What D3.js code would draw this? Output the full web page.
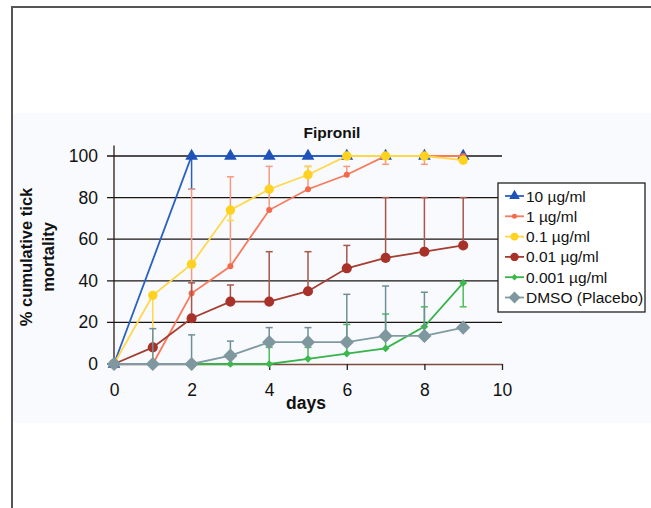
<!DOCTYPE html>
<html>
<head>
<meta charset="utf-8">
<script src="https://cdn.jsdelivr.net/npm/d3@7"></script>
<style>
  body { margin: 0; background: #fff; }
  svg text { font-family: "Liberation Sans", Arial, sans-serif; fill: #111; }
</style>
</head>
<body>
<div id="chart"></div>
<script>
// days 0..9
const days = [0, 1, 2, 3, 4, 5, 6, 7, 8, 9];
const xTicks = [0, 2, 4, 6, 8, 10];
const yTicks = [0, 20, 40, 60, 80, 100];

const seriesNames = ["10 µg/ml", "1 µg/ml", "0.1 µg/ml", "0.01 µg/ml", "0.001 µg/ml", "DMSO (Placebo)"];

// mean % cumulative mortality
const v10    = [0, null, 100, 100, 100, 100, 100, 100, 100, 100];
const v1     = [0, 0, 34, 47, 74, 84, 91, 100, 100, 100];
const v01    = [0, 33, 48, 74, 84, 91, 100, 100, 100, 98];
const v001   = [0, 8, 22, 30, 30, 35, 46, 51, 54, 57];
const v0001  = [0, 0, 0, 0, 0, 2.5, 5, 7.5, 18, 39];
const vDmso  = [0, 0, 0, 4, 10.5, 10.5, 10.5, 13.5, 13.5, 17.5];

// error bar end (cap position), null = no bar
const e10    = [null, null, 84, null, null, null, null, null, null, null];
const e1     = [null, null, 84, 90, 95, 95, 95, 96, 96, null];
const e01    = [null, 0, null, 69, null, 95, null, null, null, null];
const e001   = [null, null, 39, 38, 54, 54, 57, 80, 80, 80];
const e0001  = [null, null, null, null, 8, 8, 19, 24, 27.5, 27.5];
const eDmso  = [null, 17, 14, 11, 17.5, 17.5, 33.5, 37.5, 34.5, null];

const values = [v10, v1, v01, v001, v0001, vDmso];
const errors = [e10, e1, e01, e001, e0001, eDmso];

// square turned 45deg -> even diamond
const sqDiamond = {draw(ctx, size) {
  const r = Math.sqrt(size / 2);
  ctx.moveTo(0, -r); ctx.lineTo(r, 0); ctx.lineTo(0, r); ctx.lineTo(-r, 0); ctx.closePath();
}};

const styles = [
  {line: "#2a5fc4", fill: "#1f52b8", err: "#2a5fc4", shape: d3.symbolTriangle, size: 70},
  {line: "#f77a5c", fill: "#f26a4c", err: "#f79a80", shape: d3.symbolCircle, size: 28},
  {line: "#ffd84a", fill: "#ffd21f", err: "#ffd84a", shape: d3.symbolCircle, size: 70},
  {line: "#a33e30", fill: "#a8322a", err: "#a8564a", shape: d3.symbolCircle, size: 80},
  {line: "#36b44a", fill: "#3cb94c", err: "#4cbf5a", shape: sqDiamond, size: 30},
  {line: "#7f9aa2", fill: "#7f979e", err: "#6f8f98", shape: sqDiamond, size: 100}
];

const W = 651, H = 508;
const svg = d3.select("#chart").append("svg")
  .attr("width", W).attr("height", H);

// frame + light chart background
svg.append("rect").attr("x", 12).attr("y", 113).attr("width", W - 12).attr("height", 310)
  .attr("fill", "#f8fafd");
svg.append("path").attr("d", `M12,${H} L12,7 L${W},7`)
  .attr("fill", "none").attr("stroke", "#555").attr("stroke-width", 2);

const x = d3.scaleLinear().domain([0, 10]).range([114, 502]);
const y = d3.scaleLinear().domain([0, 100]).range([364, 156]);

// horizontal gridlines with ticks to the left
svg.append("g").selectAll("line")
  .data(yTicks.filter(t => t > 0)).enter().append("line")
  .attr("x1", 107).attr("x2", x(10))
  .attr("y1", d => y(d)).attr("y2", d => y(d))
  .attr("stroke", "#1a1412").attr("stroke-width", 1.3);

// y axis
svg.append("line").attr("x1", x(0)).attr("x2", x(0))
  .attr("y1", y(105)).attr("y2", y(0))
  .attr("stroke", "#2a1c18").attr("stroke-width", 1.3);
svg.append("line").attr("x1", 107).attr("x2", x(0))
  .attr("y1", y(0)).attr("y2", y(0))
  .attr("stroke", "#2a1c18").attr("stroke-width", 1.3);

svg.append("g").selectAll("text")
  .data(yTicks).enter().append("text")
  .attr("x", 98).attr("y", d => y(d) + 6)
  .attr("text-anchor", "end")
  .style("font-size", "17.5px")
  .text(d => d);

// x axis
const xAxis = svg.append("g").attr("transform", `translate(0,${y(0)})`)
  .call(d3.axisBottom(x).tickValues(xTicks).tickSize(6).tickSizeOuter(0).tickPadding(14));
xAxis.select(".domain").attr("stroke", "#7a4c3e").attr("stroke-width", 1.3);
xAxis.selectAll(".tick line").attr("stroke", "#2a1c18").attr("stroke-width", 1.3);
xAxis.selectAll(".tick text").style("font-size", "17.5px").attr("fill", "#111")
  .style("font-family", "Liberation Sans, Arial, sans-serif");

// series: error bars, lines, markers
values.forEach((vals, i) => {
  const st = styles[i];
  const g = svg.append("g");
  const pts = days.map((d, k) => ({d, v: vals[k], e: errors[i][k]})).filter(p => p.v != null);

  const bars = pts.filter(p => p.e != null);
  g.selectAll("line.err").data(bars).enter().append("line")
    .attr("class", "err")
    .attr("x1", p => x(p.d)).attr("x2", p => x(p.d))
    .attr("y1", p => y(p.v)).attr("y2", p => y(p.e))
    .attr("stroke", st.err).attr("stroke-width", 1.5);
  g.selectAll("line.cap").data(bars).enter().append("line")
    .attr("class", "cap")
    .attr("x1", p => x(p.d) - 3.5).attr("x2", p => x(p.d) + 3.5)
    .attr("y1", p => y(p.e)).attr("y2", p => y(p.e))
    .attr("stroke", st.err).attr("stroke-width", 1.5);

  g.append("path").datum(pts)
    .attr("fill", "none").attr("stroke", st.line).attr("stroke-width", 1.8)
    .attr("d", d3.line().x(p => x(p.d)).y(p => y(p.v)));

  g.selectAll("path.mk").data(pts).enter().append("path")
    .attr("class", "mk")
    .attr("transform", p => `translate(${x(p.d)},${y(p.v)})`)
    .attr("d", d3.symbol().type(st.shape).size(st.size))
    .attr("fill", st.fill);
});

// legend
const lg = svg.append("g").attr("transform", "translate(498,183)");
lg.append("rect").attr("width", 147).attr("height", 129)
  .attr("fill", "#fff").attr("stroke", "#222").attr("stroke-width", 1.3);
seriesNames.forEach((name, i) => {
  const st = styles[i];
  const cy = 13 + i * 20.3;
  lg.append("line").attr("x1", 7).attr("x2", 26).attr("y1", cy).attr("y2", cy)
    .attr("stroke", st.line).attr("stroke-width", 1.8);
  lg.append("path").attr("transform", `translate(16.5,${cy})`)
    .attr("d", d3.symbol().type(st.shape).size(st.size * 0.7))
    .attr("fill", st.fill);
  lg.append("text").attr("x", 28).attr("y", cy + 5.5)
    .style("font-size", "15.5px").text(name);
});

// titles
svg.append("text").attr("x", 332).attr("y", 138).attr("text-anchor", "middle")
  .style("font-size", "15.5px").style("font-weight", "bold").text("Fipronil");
svg.append("text").attr("x", 306).attr("y", 409).attr("text-anchor", "middle")
  .style("font-size", "17.5px").style("font-weight", "bold").text("days");
const yl = svg.append("text").attr("transform", "translate(32,257) rotate(-90)")
  .attr("text-anchor", "middle").style("font-size", "16.5px").style("font-weight", "bold");
yl.append("tspan").attr("x", 0).attr("dy", 0).text("% cumulative tick");
yl.append("tspan").attr("x", 0).attr("dy", 22).text("mortality");
</script>
</body>
</html>
